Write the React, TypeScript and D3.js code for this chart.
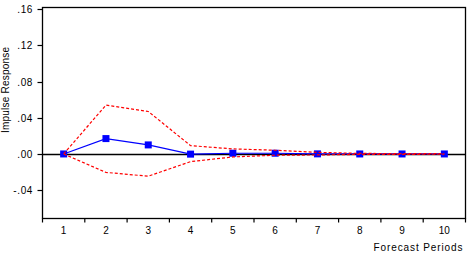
import React, { useEffect, useRef } from "react";
import * as d3 from "d3";

const periods = [1, 2, 3, 4, 5, 6, 7, 8, 9, 10];
const response = [0, 0.017, 0.01, -0.0002, 0.0008, 0.0008, 0.0001, 0, 0, 0];
const upperBand = [0, 0.054, 0.047, 0.0092, 0.0056, 0.0041, 0.0018, 0.0006, 0.0004, 0.0003];
const lowerBand = [0, -0.0204, -0.0246, -0.0085, -0.0033, -0.0014, -0.0011, -0.0005, -0.0004, -0.0003];
const yTicks = [-0.04, 0, 0.04, 0.08, 0.12, 0.16];
const yTickLabels = ["-.04", ".00", ".04", ".08", ".12", ".16"];

const W = 472;
const H = 260;
const L = 42.5;
const R = 465.5;
const T = 7.5;
const B = 218.5;
const FONT = "'Liberation Sans', Arial, sans-serif";

export default function App() {
  const ref = useRef<SVGSVGElement>(null);

  useEffect(() => {
    const svg = d3.select(ref.current);
    svg.selectAll("*").remove();

    const x = d3.scaleBand<number>().domain(periods).range([L, R]).padding(0);
    const cx = (p: number) => (x(p) as number) + x.bandwidth() / 2;
    const y = d3.scaleLinear().domain([-0.0714, 0.162]).range([B, T]);

    // zero line
    svg.append("line")
      .attr("x1", L).attr("x2", R)
      .attr("y1", Math.round(y(0)) + 0.5).attr("y2", Math.round(y(0)) + 0.5)
      .attr("stroke", "#000").attr("stroke-width", 1.3);

    // frame
    svg.append("rect")
      .attr("x", L).attr("y", T).attr("width", R - L).attr("height", B - T)
      .attr("fill", "none").attr("stroke", "#000").attr("stroke-width", 1.3);

    // y ticks
    const gy = svg.append("g");
    yTicks.forEach((v, i) => {
      const yy = Math.round(y(v)) + 0.5;
      gy.append("line").attr("x1", L - 5).attr("x2", L).attr("y1", yy).attr("y2", yy)
        .attr("stroke", "#000").attr("stroke-width", 1.2);
      gy.append("text").attr("x", 33).attr("y", yy + 3.5)
        .attr("text-anchor", "end").attr("font-family", FONT).attr("font-size", 10)
        .attr("letter-spacing", 0.6)
        .attr("fill", "#000").text(yTickLabels[i]);
    });

    // x ticks (at category boundaries)
    const gx = svg.append("g");
    periods.forEach((p) => {
      const xx = x(p) as number;
      gx.append("line").attr("x1", xx).attr("x2", xx).attr("y1", B).attr("y2", B + 4)
        .attr("stroke", "#000").attr("stroke-width", 1.2);
      gx.append("text").attr("x", cx(p)).attr("y", 234)
        .attr("text-anchor", "middle").attr("font-family", FONT).attr("font-size", 10)
        .attr("fill", "#000").text(String(p));
    });
    gx.append("line").attr("x1", R).attr("x2", R).attr("y1", B).attr("y2", B + 4)
      .attr("stroke", "#000").attr("stroke-width", 1.2);

    // axis titles
    svg.append("text")
      .attr("x", 462.5).attr("y", 250.5).attr("text-anchor", "end")
      .attr("font-family", FONT).attr("font-size", 10).attr("fill", "#000")
      .attr("textLength", 89).attr("lengthAdjust", "spacing")
      .text("Forecast Periods");
    svg.append("text")
      .attr("transform", "translate(9,90) rotate(-90)")
      .attr("text-anchor", "middle")
      .attr("font-family", FONT).attr("font-size", 10).attr("fill", "#000")
      .attr("textLength", 86).attr("lengthAdjust", "spacing")
      .text("Impulse Response");

    const line = d3.line<number>()
      .x((_, i) => cx(periods[i]))
      .y((d) => y(d));

    // response line
    svg.append("path").attr("d", line(response) as string)
      .attr("fill", "none").attr("stroke", "#0000ff").attr("stroke-width", 1.2);
    svg.append("g").selectAll("rect").data(response).join("rect")
      .attr("x", (_, i) => cx(periods[i]) - 3.5)
      .attr("y", (d) => y(d) - 3.5)
      .attr("width", 7).attr("height", 7)
      .attr("fill", "#0000ff");

    // bands
    [upperBand, lowerBand].forEach((band) => {
      svg.append("path").attr("d", line(band) as string)
        .attr("fill", "none").attr("stroke", "#ff0000").attr("stroke-width", 1.2)
        .attr("stroke-dasharray", "3,2");
    });
  }, []);

  return (
    <svg
      ref={ref}
      width={W}
      height={H}
      style={{ position: "absolute", left: 0, top: 0, background: "#fff" }}
    />
  );
}
